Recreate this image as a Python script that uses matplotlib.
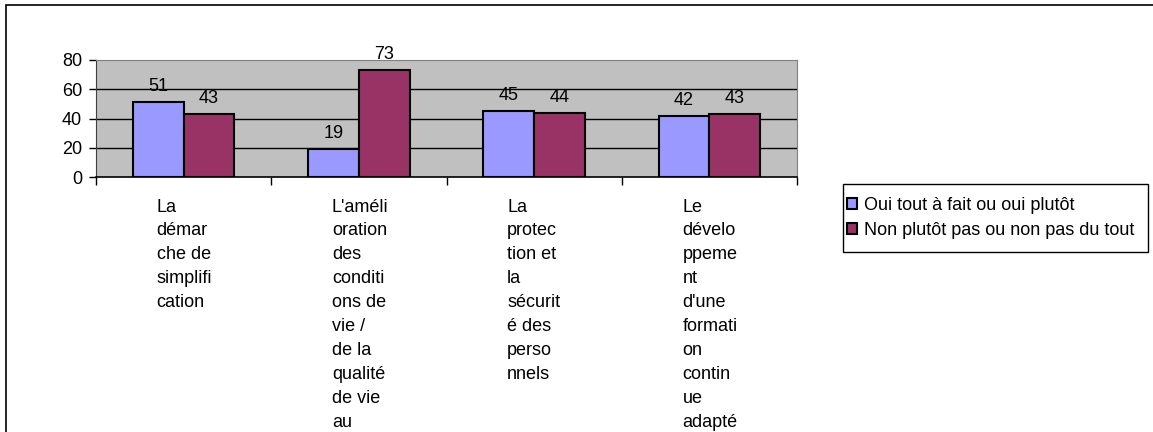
import numpy as np
import matplotlib.pyplot as plt
from matplotlib.patches import Rectangle

plt.rcParams['font.family'] = ['Liberation Sans', 'DejaVu Sans']

# Data
categories = [
    ["La", "démar", "che de", "simplifi", "cation"],
    ["L'améli", "oration", "des", "conditi", "ons de", "vie /", "de la", "qualité", "de vie", "au"],
    ["La", "protec", "tion et", "la", "sécurit", "é des", "perso", "nnels"],
    ["Le", "dévelo", "ppeme", "nt", "d'une", "formati", "on", "contin", "ue", "adapté"],
]
oui = [51, 19, 45, 42]
non = [43, 73, 44, 43]
series_names = ["Oui tout à fait ou oui plutôt", "Non plutôt pas ou non pas du tout"]

W, H = 1153, 432
fig = plt.figure(figsize=(W / 100, H / 100), dpi=100)
# outer chart border
fig.patches.append(Rectangle((6 / W, -0.01), 1, 1 - 5 / H + 0.01, transform=fig.transFigure,
                             fill=False, edgecolor='black', linewidth=1.2))

ax = fig.add_axes([96 / W, 1 - 177 / H, (797 - 96) / W, (177 - 60) / H])
ax.set_facecolor('#C0C0C0')

x = np.arange(len(oui))
w = 0.29
b1 = ax.bar(x - w / 2, oui, w, color='#9999FF', edgecolor='black', linewidth=1.5, zorder=3,
            label=series_names[0])
b2 = ax.bar(x + w / 2, non, w, color='#993366', edgecolor='black', linewidth=1.5, zorder=3,
            label=series_names[1])
for bars in (b1, b2):
    for rect in bars:
        ax.annotate(str(int(rect.get_height())), (rect.get_x() + rect.get_width() / 2, rect.get_height()),
                    xytext=(0, 5), textcoords='offset points', ha='center', va='bottom', fontsize=13)

ax.set_xlim(-0.5, len(oui) - 0.5)
ax.set_ylim(0, 80)
ax.set_yticks([0, 20, 40, 60, 80])
ax.tick_params(axis='y', labelsize=13, length=5, width=1, pad=5, direction='out')
for v in [20, 40, 60]:
    ax.axhline(v, color='black', linewidth=1, zorder=1)

ax.set_xticks(np.arange(len(oui) + 1) - 0.5)
ax.set_xticklabels([])
ax.tick_params(axis='x', length=6, width=1, direction='out')

for s in ['top', 'right']:
    ax.spines[s].set_color('#808080')
ax.spines['left'].set_color('#404040')
ax.spines['bottom'].set_color('black')
ax.spines['bottom'].set_linewidth(1.2)

# category labels, wrapped like the original
for i, lines in enumerate(categories):
    for j, line in enumerate(lines):
        ax.annotate(line, (i, 0), xycoords='data', xytext=(-27 * 0.72, -(34.5 + 23.9 * j) * 0.72),
                    textcoords='offset points', ha='left', va='baseline', fontsize=13,
                    annotation_clip=False)

# legend: frame drawn separately to get Excel's tall padding
fig.patches.append(Rectangle((843 / W, 1 - 252 / H), (1148 - 843) / W, (252 - 184) / H,
                             transform=fig.transFigure, fill=False, edgecolor='black', linewidth=1))
ax.legend(loc='center left', bbox_to_anchor=(843 / W, 1 - 218 / H), bbox_transform=fig.transFigure,
          fontsize=13, frameon=False, handlelength=0.6, handleheight=0.6, handletextpad=0.35,
          borderpad=0.2, labelspacing=0.45, borderaxespad=0)

fig.savefig('out.png', dpi=100)
